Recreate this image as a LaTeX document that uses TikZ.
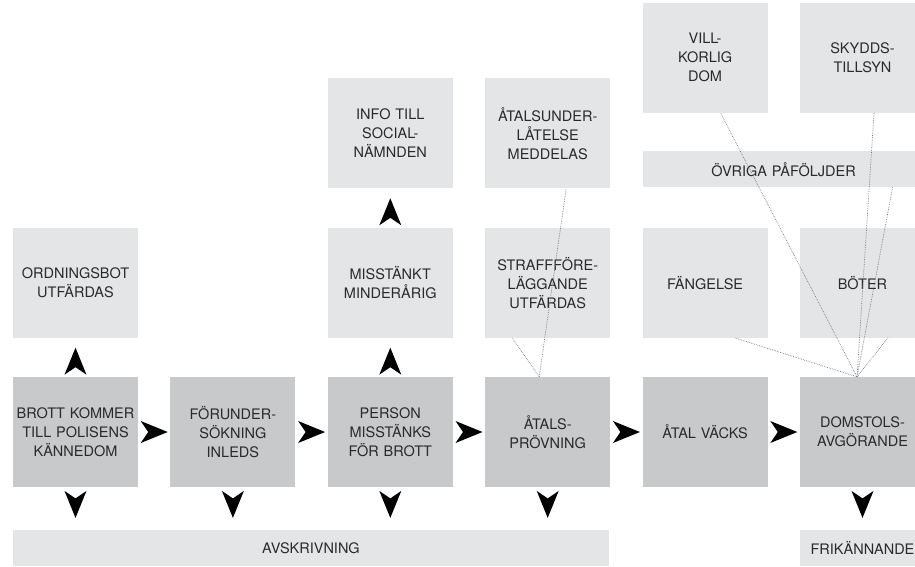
\documentclass[tikz,border=0pt]{standalone}
\usepackage{fontspec}
\setmainfont{TeX Gyre Heros}
\usetikzlibrary{positioning,calc}
\definecolor{lightbox}{HTML}{E4E5E7}
\definecolor{darkbox}{HTML}{C8C9CB}
\definecolor{inkgrey}{HTML}{2A2A2A}
\definecolor{dotgrey}{HTML}{7A7A7A}
\tikzstyle{stage} = [rectangle, fill=darkbox, text=inkgrey, inner sep=0pt,
    text width=120pt, align=center, minimum width=125pt, minimum height=110pt,
    font=\fontsize{14.5}{19}\selectfont]
\tikzstyle{outcome} = [stage, fill=lightbox]
\tikzstyle{strip} = [outcome, minimum height=36pt]
\tikzstyle{link} = [draw=dotgrey, densely dotted, line width=0.7pt]
\newcommand{\chev}[2]{\fill[black,shift={#2},rotate=#1]
    (13.5,0) -- (-13.5,11) -- (-6,0) -- (-13.5,-11) -- cycle;}

\begin{document}
\begin{tikzpicture}[x=1pt,y=-1pt,node distance=39pt and 32pt]
  \useasboundingbox (0,0) rectangle (915,566);
  % main chain
  \node[stage] (brott) at (75.5,432) {BROTT KOMMER\\TILL POLISENS\\KÄNNEDOM};
  \node[stage] (fu) [right=of brott] {FÖRUNDER-\\SÖKNING\\INLEDS};
  \node[stage] (misst) [right=of fu] {PERSON\\MISSTÄNKS\\FÖR BROTT};
  \node[stage] (atp) [right=of misst] {ÅTALS-\\PRÖVNING};
  \node[stage] (atv) [right=of atp] {ÅTAL VÄCKS};
  \node[stage] (dom) [right=of atv] {DOMSTOLS-\\AVGÖRANDE};

  % outcomes
  \node[outcome] (ordb) [above=of brott] {ORDNINGSBOT\\UTFÄRDAS};
  \node[outcome] (minor) [above=of misst] {MISSTÄNKT\\MINDERÅRIG};
  \node[outcome] (social) [above=of minor] {INFO TILL\\SOCIAL-\\NÄMNDEN};
  \node[outcome] (straff) [above=of atp] {STRAFFFÖRE-\\LÄGGANDE\\UTFÄRDAS};
  \node[outcome] (underl) [above=of straff] {ÅTALSUNDER-\\LÅTELSE\\MEDDELAS};
  \node[outcome] (fang) [above=of atv] {FÄNGELSE};
  \node[outcome] (boter) [above=of dom] {BÖTER};
  \node[strip,minimum width=282pt,text width=270pt] (ovr) [above=40pt of fang.north west,anchor=south west] {ÖVRIGA PÅFÖLJDER};
  \node[outcome] (villk) [above=38pt of ovr.north west,anchor=south west] {VILL-\\KORLIG\\DOM};
  \node[outcome] (skydd) [right=of villk] {SKYDDS-\\TILLSYN};
  \node[strip,minimum width=596pt,text width=580pt] (avskr) [below=43pt of brott.south west,anchor=north west] {AVSKRIVNING};
  \node[strip] (frik) [below=43pt of dom] {FRIKÄNNANDE};

  % dotted links
  \coordinate (hubA) at ([xshift=-8.5pt]atp.north);
  \coordinate (hubB) at ([xshift=-5.5pt]dom.north);
  \draw[link] (hubA) -- ([xshift=-35.5pt]straff.south);
  \draw[link] (hubA) -- ([xshift=18.5pt]underl.south);
  \draw[link] (hubB) -- ([xshift=29.5pt]fang.south);
  \draw[link] (hubB) -- ([xshift=25.5pt]boter.south);
  \draw[link] (hubB) -- ([xshift=15.5pt]villk.south);
  \draw[link] (hubB) -- ([xshift=11.5pt]skydd.south);
  \draw[link] (hubB) -- ([xshift=109pt]ovr.south);

  % arrowheads
  \chev{0}{($(brott.east)!0.5!(fu.west)$)}
  \chev{0}{($(fu.east)!0.5!(misst.west)$)}
  \chev{0}{($(misst.east)!0.5!(atp.west)$)}
  \chev{0}{($(atp.east)!0.5!(atv.west)$)}
  \chev{0}{($(atv.east)!0.5!(dom.west)$)}
  \chev{90}{($(brott.north)!0.4!(ordb.south)$)}
  \chev{90}{($(misst.north)!0.4!(minor.south)$)}
  \chev{90}{($(minor.north)!0.4!(social.south)$)}
  \chev{-90}{($(brott.south)!0.4!(brott.south |- avskr.north)$)}
  \chev{-90}{($(fu.south)!0.4!(fu.south |- avskr.north)$)}
  \chev{-90}{($(misst.south)!0.4!(misst.south |- avskr.north)$)}
  \chev{-90}{($(atp.south)!0.4!(atp.south |- avskr.north)$)}
  \chev{-90}{($(dom.south)!0.4!(frik.north)$)}
\end{tikzpicture}
\end{document}
